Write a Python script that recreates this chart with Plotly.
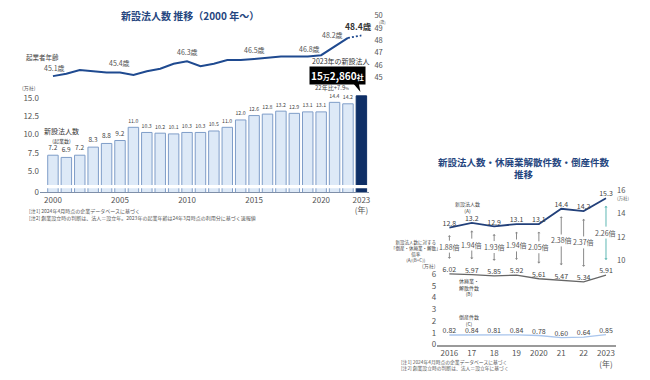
import plotly.graph_objects as go

# ---------------- data: left chart ----------------
years = list(range(2000, 2024))
new_corps = [7.2, 6.9, 7.2, 8.3, 8.8, 9.2, 11.0, 10.3, 10.2, 10.1, 10.3, 10.3,
             10.5, 11.0, 12.0, 12.6, 12.8, 13.2, 12.9, 13.1, 13.1, 14.4, 14.2, 15.286]
founder_age = [45.1, 45.3, 45.6, 45.5, 45.4, 45.4, 45.2, 45.5, 45.7, 46.1, 46.3, 45.9,
               46.1, 46.4, 46.4, 46.5, 46.6, 46.7, 46.7, 46.7, 46.8, 47.5, 48.2, 48.4]
age_label_years = [2000, 2005, 2010, 2015, 2020, 2022, 2023]
left_ytickvals = [2.2, 5, 7.5, 10, 12.5, 15]
left_yticktext = ["0", "5.0", "7.5", "10.0", "12.5", "15.0"]
left_xtickvals = [2000, 2005, 2010, 2015, 2020, 2023]
left_xticktext = ["2000", "2005", "2010", "2015", "2020", "2023<br>(年)"]
age_ticks = [45, 46, 47, 48, 49, 50]

# ---------------- data: right chart ----------------
r_years = [2016, 2017, 2018, 2019, 2020, 2021, 2022, 2023]
r_ticktext = ["2016", "17", "18", "19", "2020", "21", "22", "2023<br>(年)"]
new_a = [12.8, 13.2, 12.9, 13.1, 13.1, 14.4, 14.2, 15.3]
closures_b = [6.02, 5.97, 5.85, 5.92, 5.61, 5.47, 5.34, 5.91]
bankrupt_c = [0.82, 0.84, 0.81, 0.84, 0.78, 0.60, 0.64, 0.85]
ratio = [1.88, 1.94, 1.93, 1.94, 2.05, 2.38, 2.37, 2.26]

W, H = 650, 380
FONT = "Noto Sans CJK JP"
NAVY = "#24457e"
DARK = "#444444"


def px(x):
    return x / W


def py(y):
    return 1 - y / H


fig = go.Figure()

# ---- left bars ----
bar_colors = ["#dde9f7"] * (len(years) - 1) + ["#0f2f66"]
line_colors = ["#7f9dc8"] * (len(years) - 1) + ["#0f2f66"]
bar_text = [f"{v:.1f}" for v in new_corps[:-1]] + [""]
fig.add_trace(go.Bar(
    x=years, y=new_corps, xaxis="x", yaxis="y",
    marker=dict(color=bar_colors, line=dict(color=line_colors, width=1)),
    width=0.78, text=bar_text, textposition="outside",
    textfont=dict(size=6.5, color=DARK, family=FONT), cliponaxis=False,
))

# ---- left age line ----
fig.add_trace(go.Scatter(
    x=years[:-1], y=founder_age[:-1], xaxis="x", yaxis="y2", mode="lines",
    line=dict(color="#1f4a90", width=2),
))
fig.add_trace(go.Scatter(
    x=years[-2:], y=founder_age[-2:], xaxis="x", yaxis="y2", mode="lines",
    line=dict(color="#1f4a90", width=1.8, dash="2px,2px"),
))

# ---- right lines ----
fig.add_trace(go.Scatter(
    x=r_years, y=new_a, xaxis="x2", yaxis="y4", mode="lines+text",
    line=dict(color="#22407a", width=1.8),
    text=[f"{v:.1f}" for v in new_a], textposition="top center",
    textfont=dict(size=7, color=DARK, family=FONT), cliponaxis=False,
))
fig.add_trace(go.Scatter(
    x=r_years, y=closures_b, xaxis="x2", yaxis="y3", mode="lines+text",
    line=dict(color="#666666", width=1.3),
    text=[f"{v:.2f}" for v in closures_b], textposition="top center",
    textfont=dict(size=7, color=DARK, family=FONT), cliponaxis=False,
))
fig.add_trace(go.Scatter(
    x=r_years, y=bankrupt_c, xaxis="x2", yaxis="y3", mode="lines+text",
    line=dict(color="#a9c5ec", width=1.3),
    text=[f"{v:.2f}" for v in bankrupt_c], textposition="top center",
    textfont=dict(size=7, color=DARK, family=FONT), cliponaxis=False,
))

# axis geometry for right chart (both y axes share one domain, 12 px per unit)
R3 = [0, 13.667]
R4 = [2.833, 16.5]
off = R4[0] - R3[0]

annotations = []

# ratio labels and arrows
for i, yr in enumerate(r_years):
    a = new_a[i]
    b = closures_b[i] + off
    lab = (a + b) / 2 + 0.35
    col = "#5fb8b3" if i == len(r_years) - 1 else "#8a8a8a"
    annotations.append(dict(x=yr, y=lab, xref="x2", yref="y4", text=f"{ratio[i]:.2f}倍",
                            showarrow=False, font=dict(size=7, color="#555", family=FONT)))
    annotations.append(dict(x=yr, y=a - 0.65, xref="x2", yref="y4", axref="x2", ayref="y4",
                            ax=yr, ay=lab + 0.38, text="", showarrow=True, arrowhead=1,
                            arrowsize=0.55, arrowwidth=1, arrowcolor=col))
    annotations.append(dict(x=yr, y=b + 1.3, xref="x2", yref="y4", axref="x2", ayref="y4",
                            ax=yr, ay=lab - 0.38, text="", showarrow=True, arrowhead=1,
                            arrowsize=0.55, arrowwidth=1, arrowcolor=col))

# age labels
age_shift = {2000: (2, 8), 2005: (0, 9), 2010: (0, 9), 2015: (0, 9), 2020: (-12, 6),
             2022: (-15, 3), 2023: (-3, 9)}
for yr in age_label_years:
    v = founder_age[years.index(yr)]
    xs, ys = age_shift[yr]
    big = yr == 2023
    annotations.append(dict(x=yr, y=v, xref="x", yref="y2", xshift=xs, yshift=ys,
                            text=(f"<b>{v:.1f}歳</b>" if big else f"{v:.1f}歳"), showarrow=False,
                            font=dict(size=8.5 if big else 7, color="#333" if big else "#555",
                                      family=FONT)))


def note(x, y, text, size=7, color=DARK, xanchor="center", **kw):
    annotations.append(dict(x=px(x), y=py(y), xref="paper", yref="paper", text=text,
                            showarrow=False, xanchor=xanchor, yanchor="middle",
                            font=dict(size=size, color=color, family=FONT), **kw))


# left texts
note(190, 13, "<b>新設法人数 推移（2000 年～）</b>", size=10, color=NAVY)
note(43, 55.5, "起業者年齢", size=6.5, color="#444")
note(29, 87, "(万社)", size=5, color="#555")
note(62, 135, "新設法人数<br><span style='font-size:5px'>(起業数)</span>", size=7, color="#333")
note(383, 19.5, "(歳)", size=4, color="#555")
note(342, 59, "2023年の新設法人", size=7, color="#333")
note(338, 74, "<b>15<span style='font-size:7px'>万</span>2,860<span style='font-size:7px'>社</span></b>",
     size=10, color="white", bgcolor="black", borderpad=1)
note(333, 86.5, "22年比+7.9<span style='font-size:4px'>%</span>", size=6, color="#444")
note(27, 216, "[注1] 2024年4月時点の企業データベースに基づく<br>"
     "[注2] 創業設立時の判断は、法人＝設立年。2023年の起業年齢は24年3月時点の利用分に基づく速報値",
     size=5, color="#555", xanchor="left", align="left")

# right texts
note(525, 169, "<b>新設法人数・休廃業解散件数・倒産件数<br>推移</b>", size=9.5, color=NAVY)
note(468, 208, "新設法人数<br>(A)", size=5, color="#444")
note(417, 253, "新設法人数に対する<br>「倒産・休廃業・解散」<br>倍率<br>(A/(B+C))", size=4.5, color="#444")
note(430, 269, "(万社)", size=5, color="#555")
note(624, 199.5, "(万社)", size=4.5, color="#555")
note(470, 290, "休廃業・<br>解散件数<br>(B)", size=5, color="#444")
note(470, 324, "倒産件数<br>(C)", size=5, color="#444")
note(400, 370, "[注1] 2024年4月時点の企業データベースに基づく<br>[注2] 創業設立時の判断は、法人＝設立年に基づく",
     size=4.8, color="#555", xanchor="left", align="left")

shapes = [
    # axis break band across the bars
    dict(type="rect", xref="paper", yref="y", x0=px(38), x1=px(372), y0=2.7, y1=3.15,
         fillcolor="white", line=dict(width=0), layer="above"),
    # callout pointer
    dict(type="path", xref="paper", yref="paper",
         path=f"M {px(352)},{py(80)} L {px(359)},{py(80)} L {px(361)},{py(91)} Z",
         fillcolor="black", line=dict(width=0)),
]

axis_font = dict(size=8, color="#555", family=FONT)
small_axis_font = dict(size=7.5, color="#555", family=FONT)

fig.update_layout(
    width=W, height=H, margin=dict(l=0, r=0, t=0, b=0),
    paper_bgcolor="white", plot_bgcolor="rgba(0,0,0,0)", showlegend=False,
    font=dict(family=FONT),
    bargap=0.2,
    xaxis=dict(domain=[px(40), px(370)], range=[1999.03, 2023.6], anchor="y",
               tickvals=left_xtickvals, ticktext=left_xticktext, tickfont=axis_font,
               showline=True, linecolor="#7f8fa8", linewidth=1, showgrid=False,
               zeroline=False, ticks=""),
    yaxis=dict(domain=[py(193), py(90)], range=[2.2, 15.93], anchor="x",
               tickvals=left_ytickvals, ticktext=left_yticktext, tickfont=axis_font,
               showgrid=False, zeroline=False, showline=False),
    yaxis2=dict(domain=[py(80), py(10)], range=[44.68, 50.24], anchor="x", side="right",
                tickvals=age_ticks, tickfont=small_axis_font, showgrid=False, zeroline=False,
                showline=False, ticklabelstandoff=4),
    xaxis2=dict(domain=[px(438), px(617)], range=[2015.46, 2023.45], anchor="y3",
                tickvals=r_years, ticktext=r_ticktext, tickfont=axis_font,
                showline=True, linecolor="#9a9a9a", linewidth=2, showgrid=False,
                zeroline=False, ticks=""),
    yaxis3=dict(domain=[py(349), py(185)], range=R3, anchor="x2",
                tickvals=[0, 1, 2, 3, 4, 5, 6], tickfont=axis_font, showgrid=False,
                zeroline=False, showline=False),
    yaxis4=dict(overlaying="y3", range=R4, anchor="x2", side="right",
                tickvals=[10, 12, 14, 16], tickfont=small_axis_font, showgrid=False,
                zeroline=False, showline=False),
    annotations=annotations, shapes=shapes,
)

fig.write_html("out.html", config={"displayModeBar": False},
               post_script="document.body.style.margin='0px';"
               "document.body.style.overflow='hidden';")
